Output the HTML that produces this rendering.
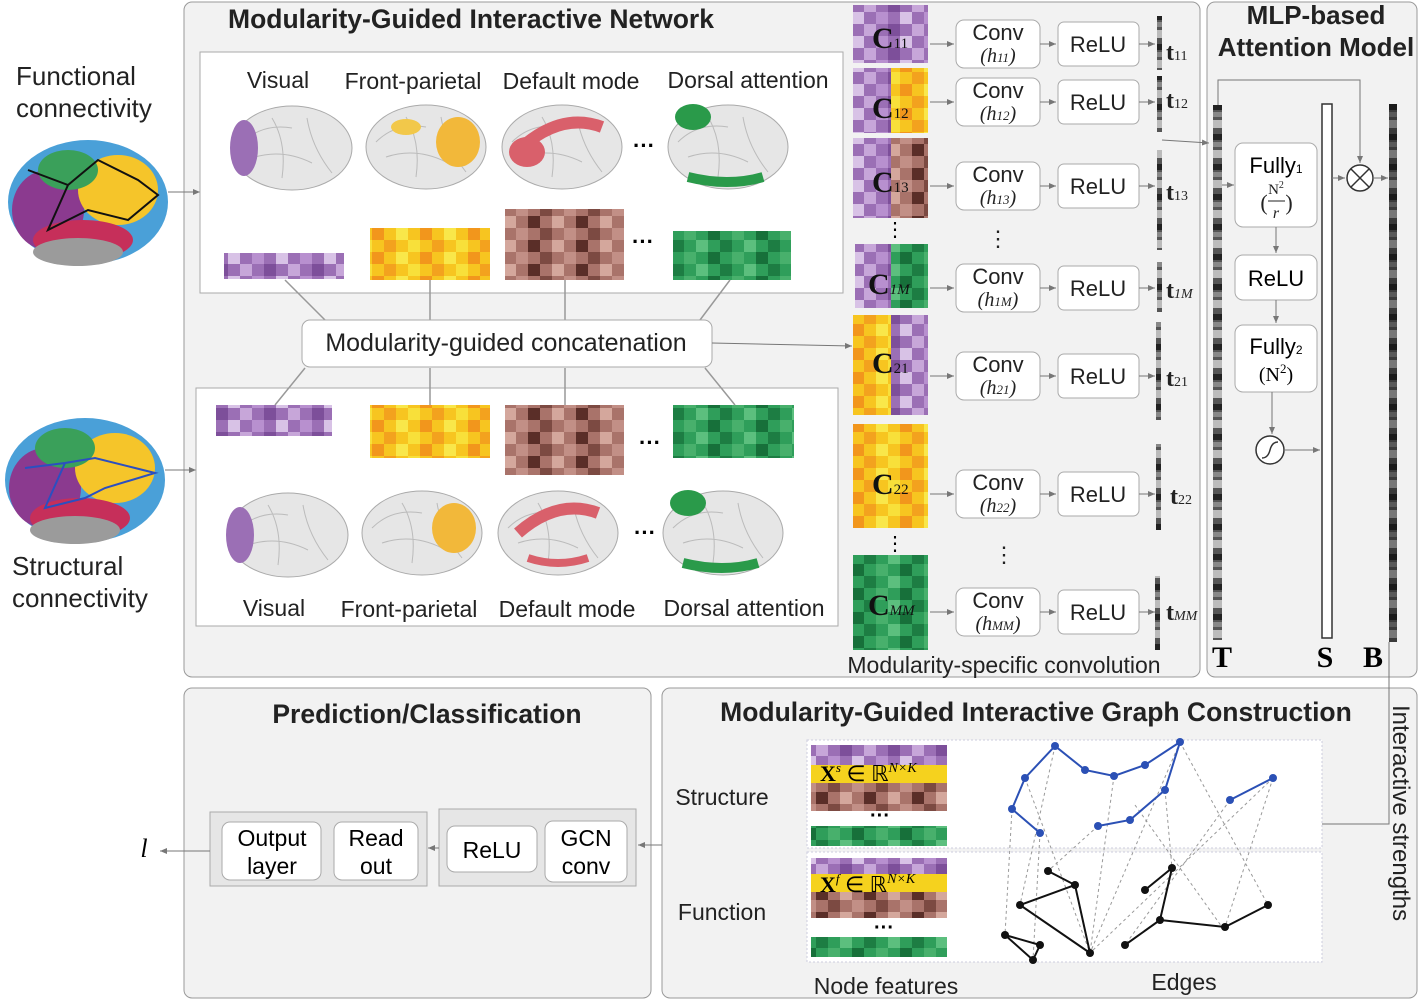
<!DOCTYPE html>
<html><head><meta charset="utf-8"><style>
body{margin:0;background:#fff;}
svg{display:block;font-family:"Liberation Sans",Arial,sans-serif;}
</style></head><body>
<svg width="1419" height="1001" viewBox="0 0 1419 1001" xmlns="http://www.w3.org/2000/svg">
<defs>
<pattern id="pp" width="48" height="24" patternUnits="userSpaceOnUse">
<rect width="48" height="24" fill="#9b6fb5"/><rect x="0" y="0" width="12" height="12" fill="#c7a6d9"/><rect x="24" y="0" width="12" height="12" fill="#7d4f9a"/><rect x="12" y="12" width="12" height="12" fill="#b890cf"/><rect x="36" y="12" width="12" height="12" fill="#d8c2e6"/></pattern>
<pattern id="py" width="48" height="24" patternUnits="userSpaceOnUse">
<rect width="48" height="24" fill="#f7c520"/><rect x="0" y="0" width="12" height="12" fill="#f3a21e"/><rect x="24" y="0" width="12" height="12" fill="#f8e03a"/><rect x="12" y="12" width="12" height="12" fill="#f9e74a"/><rect x="36" y="12" width="12" height="12" fill="#f2961c"/></pattern>
<pattern id="pb" width="48" height="24" patternUnits="userSpaceOnUse">
<rect width="48" height="24" fill="#a9736a"/><rect x="0" y="0" width="12" height="12" fill="#5a2e28"/><rect x="24" y="0" width="12" height="12" fill="#d4a79c"/><rect x="12" y="12" width="12" height="12" fill="#7c4a42"/><rect x="36" y="12" width="12" height="12" fill="#c28f86"/></pattern>
<pattern id="pg" width="48" height="24" patternUnits="userSpaceOnUse">
<rect width="48" height="24" fill="#2f9e5a"/><rect x="0" y="0" width="12" height="12" fill="#1d7d43"/><rect x="24" y="0" width="12" height="12" fill="#5cbf7e"/><rect x="12" y="12" width="12" height="12" fill="#48b06c"/><rect x="36" y="12" width="12" height="12" fill="#17703a"/></pattern>
<pattern id="pbar" width="10" height="30" patternUnits="userSpaceOnUse">
<rect width="10" height="30" fill="#555"/><rect y="0" width="10" height="8" fill="#bbb"/><rect y="14" width="10" height="6" fill="#222"/><rect y="22" width="10" height="5" fill="#888"/></pattern>
<marker id="ar" markerWidth="8" markerHeight="8" refX="7" refY="4" orient="auto"><path d="M0,1 L7,4 L0,7z" fill="#777"/></marker>
<g id="brain"><ellipse cx="60" cy="45" rx="60" ry="42" fill="#e6e6e6" stroke="#aaa"/><path d="M10,40 Q30,20 60,25 M20,55 Q50,45 80,60 M40,15 Q55,40 50,75 M75,15 Q80,45 100,70" stroke="#bbb" fill="none"/></g>
</defs>

<rect x="184" y="2" width="1016" height="675" rx="8" fill="#f2f2f2" stroke="#999"/>
<rect x="1207" y="2" width="210" height="675" rx="8" fill="#f2f2f2" stroke="#999"/>
<rect x="184" y="688" width="467" height="310" rx="8" fill="#f2f2f2" stroke="#999"/>
<rect x="662" y="688" width="755" height="310" rx="8" fill="#f2f2f2" stroke="#999"/>

<text x="471" y="28" font-size="26.5" font-weight="bold" text-anchor="middle" fill="#222">Modularity-Guided Interactive Network</text>
<text x="1316" y="24" font-size="26" font-weight="bold" text-anchor="middle" fill="#222">MLP-based</text>
<text x="1316" y="56" font-size="26" font-weight="bold" text-anchor="middle" fill="#222">Attention Model</text>
<text x="427" y="723" font-size="26.5" font-weight="bold" text-anchor="middle" fill="#222">Prediction/Classification</text>
<text x="1036" y="721" font-size="26.5" font-weight="bold" text-anchor="middle" fill="#222">Modularity-Guided Interactive Graph Construction</text>

<text x="16" y="85" font-size="26" fill="#222">Functional</text>
<text x="16" y="117" font-size="26" fill="#222">connectivity</text>
<g transform="translate(8,140)"><ellipse cx="80" cy="62" rx="80" ry="62" fill="#4aa0d8"/><ellipse cx="40" cy="70" rx="36" ry="40" fill="#8b3a8f"/><ellipse cx="110" cy="50" rx="40" ry="35" fill="#f5c52a"/><ellipse cx="75" cy="100" rx="50" ry="20" fill="#c62f5a"/><ellipse cx="60" cy="30" rx="30" ry="20" fill="#3aa05a"/><ellipse cx="70" cy="112" rx="45" ry="14" fill="#9b9b9b"/><path d="M20,30 L60,45 L90,20 L130,40 L150,55 L120,80 L80,70 L40,90 L60,45" stroke="#111" stroke-width="2" fill="none"/></g>
<line x1="168" y1="192" x2="200" y2="192" stroke="#777" marker-end="url(#ar)"/>
<g transform="translate(5,418)"><ellipse cx="80" cy="62" rx="80" ry="62" fill="#4aa0d8"/><ellipse cx="40" cy="70" rx="36" ry="40" fill="#8b3a8f"/><ellipse cx="110" cy="50" rx="40" ry="35" fill="#f5c52a"/><ellipse cx="75" cy="100" rx="50" ry="20" fill="#c62f5a"/><ellipse cx="60" cy="30" rx="30" ry="20" fill="#3aa05a"/><ellipse cx="70" cy="112" rx="45" ry="14" fill="#9b9b9b"/><path d="M20,50 L60,45 L90,40 L130,50 L150,55 L100,70 L80,80 L40,90 L60,45" stroke="#2b4fc0" stroke-width="2" fill="none"/></g>
<line x1="165" y1="470" x2="196" y2="470" stroke="#777" marker-end="url(#ar)"/>
<text x="12" y="575" font-size="26" fill="#222">Structural</text>
<text x="12" y="607" font-size="26" fill="#222">connectivity</text>

<rect x="200" y="52" width="643" height="241" fill="#fff" stroke="#aaa"/>
<rect x="196" y="388" width="642" height="238" fill="#fff" stroke="#aaa"/>
<g font-size="23" fill="#222" text-anchor="middle">
<text x="278" y="88">Visual</text><text x="413" y="89">Front-parietal</text><text x="571" y="89">Default mode</text><text x="748" y="88">Dorsal attention</text>
<text x="274" y="616">Visual</text><text x="409" y="617">Front-parietal</text><text x="567" y="617">Default mode</text><text x="744" y="616">Dorsal attention</text>
</g>
<g transform="translate(232,103)"><use href="#brain"/><ellipse cx="12" cy="45" rx="14" ry="28" fill="#9b6fb5"/></g>
<g transform="translate(366,102)"><use href="#brain"/><ellipse cx="92" cy="40" rx="22" ry="25" fill="#f2b83a"/><ellipse cx="40" cy="25" rx="15" ry="8" fill="#f2c84a"/></g>
<g transform="translate(502,102)"><use href="#brain"/><path d="M20,45 Q60,10 100,25" stroke="#d9606b" stroke-width="12" fill="none"/><ellipse cx="25" cy="50" rx="18" ry="15" fill="#d9606b"/></g>
<text x="644" y="153" font-size="22" font-weight="bold" text-anchor="middle">···</text>
<g transform="translate(668,102)"><use href="#brain"/><ellipse cx="25" cy="15" rx="18" ry="13" fill="#2a9a4a"/><path d="M20,75 Q60,85 95,75" stroke="#2a9a4a" stroke-width="10" fill="none"/></g>
<rect x="224" y="253" width="120" height="26" fill="url(#pp)"/>
<rect x="370" y="228" width="120" height="52" fill="url(#py)"/>
<rect x="505" y="209" width="119" height="71" fill="url(#pb)"/>
<text x="643" y="249" font-size="22" font-weight="bold" text-anchor="middle">···</text>
<rect x="673" y="231" width="118" height="49" fill="url(#pg)"/>
<rect x="216" y="405" width="116" height="31" fill="url(#pp)"/>
<rect x="370" y="405" width="120" height="53" fill="url(#py)"/>
<rect x="505" y="405" width="119" height="70" fill="url(#pb)"/>
<text x="650" y="450" font-size="22" font-weight="bold" text-anchor="middle">···</text>
<rect x="673" y="405" width="121" height="53" fill="url(#pg)"/>
<g transform="translate(228,490)"><use href="#brain"/><ellipse cx="12" cy="45" rx="14" ry="28" fill="#9b6fb5"/></g>
<g transform="translate(362,488)"><use href="#brain"/><ellipse cx="92" cy="40" rx="22" ry="25" fill="#f2b83a"/></g>
<g transform="translate(498,488)"><use href="#brain"/><path d="M20,45 Q60,10 100,25" stroke="#d9606b" stroke-width="12" fill="none"/><path d="M30,70 Q60,80 90,70" stroke="#d9606b" stroke-width="8" fill="none"/></g>
<text x="645" y="540" font-size="22" font-weight="bold" text-anchor="middle">···</text>
<g transform="translate(663,488)"><use href="#brain"/><ellipse cx="25" cy="15" rx="18" ry="13" fill="#2a9a4a"/><path d="M20,75 Q60,85 95,75" stroke="#2a9a4a" stroke-width="10" fill="none"/></g>

<g stroke="#999" stroke-width="1.5">
<line x1="285" y1="280" x2="325" y2="320"/><line x1="430" y1="280" x2="430" y2="320"/><line x1="565" y1="280" x2="565" y2="320"/><line x1="730" y1="280" x2="700" y2="320"/>
<line x1="305" y1="368" x2="275" y2="405"/><line x1="430" y1="368" x2="430" y2="405"/><line x1="565" y1="368" x2="565" y2="405"/><line x1="705" y1="368" x2="735" y2="405"/>
</g>
<rect x="302" y="320" width="410" height="47" rx="8" fill="#fff" stroke="#aaa"/>
<text x="506" y="351" font-size="25" text-anchor="middle" fill="#222">Modularity-guided concatenation</text>
<line x1="712" y1="343" x2="852" y2="346" stroke="#777" marker-end="url(#ar)"/>

<g>
<rect x="853" y="5" width="22" height="58" fill="url(#pp)"/><rect x="875" y="5" width="53" height="58" fill="url(#pp)"/>
<rect x="853" y="68" width="38" height="65" fill="url(#pp)"/><rect x="891" y="68" width="37" height="65" fill="url(#py)"/>
<rect x="853" y="138" width="38" height="80" fill="url(#pp)"/><rect x="891" y="138" width="37" height="80" fill="url(#pb)"/>
<rect x="855" y="244" width="36" height="64" fill="url(#pp)"/><rect x="891" y="244" width="37" height="64" fill="url(#pg)"/>
<rect x="853" y="315" width="38" height="100" fill="url(#py)"/><rect x="891" y="315" width="37" height="100" fill="url(#pp)"/>
<rect x="853" y="424" width="75" height="104" fill="url(#py)"/>
<rect x="853" y="555" width="75" height="95" fill="url(#pg)"/>
</g>
<g font-family="Liberation Serif,serif" font-weight="bold" fill="#111">
<text x="872" y="48" font-size="30">C<tspan font-size="15" font-weight="normal">11</tspan></text>
<text x="872" y="118" font-size="30">C<tspan font-size="15" font-weight="normal">12</tspan></text>
<text x="872" y="192" font-size="30">C<tspan font-size="15" font-weight="normal">13</tspan></text>
<text x="868" y="294" font-size="30">C<tspan font-size="15" font-style="italic" font-weight="normal">1M</tspan></text>
<text x="872" y="373" font-size="30">C<tspan font-size="15" font-weight="normal">21</tspan></text>
<text x="872" y="494" font-size="30">C<tspan font-size="15" font-weight="normal">22</tspan></text>
<text x="868" y="615" font-size="30">C<tspan font-size="15" font-style="italic" font-weight="normal">MM</tspan></text>
</g>
<text x="895" y="236" font-size="20" text-anchor="middle">⋮</text>
<text x="895" y="550" font-size="20" text-anchor="middle">⋮</text>

<g font-size="22" fill="#222" text-anchor="middle">
<g transform="translate(0,44)"><line x1="930" y1="0" x2="954" y2="0" stroke="#777" marker-end="url(#ar)"/><rect x="956" y="-24" width="84" height="48" rx="8" fill="#fff" stroke="#aaa"/><text x="998" y="-4">Conv</text><text x="998" y="18" font-family="Liberation Serif,serif" font-style="italic" font-size="20">(h<tspan font-size="13">11</tspan>)</text><line x1="1040" y1="0" x2="1056" y2="0" stroke="#777" marker-end="url(#ar)"/><rect x="1058" y="-22" width="81" height="44" rx="6" fill="#fff" stroke="#aaa"/><text x="1098" y="8">ReLU</text><line x1="1139" y1="0" x2="1155" y2="0" stroke="#777" marker-end="url(#ar)"/><text x="1166" y="16" font-family="Liberation Serif,serif" font-weight="bold" font-size="24" text-anchor="start">t<tspan font-size="14" font-weight="normal">11</tspan></text></g>
<g transform="translate(0,102)"><line x1="930" y1="0" x2="954" y2="0" stroke="#777" marker-end="url(#ar)"/><rect x="956" y="-24" width="84" height="48" rx="8" fill="#fff" stroke="#aaa"/><text x="998" y="-4">Conv</text><text x="998" y="18" font-family="Liberation Serif,serif" font-style="italic" font-size="20">(h<tspan font-size="13">12</tspan>)</text><line x1="1040" y1="0" x2="1056" y2="0" stroke="#777" marker-end="url(#ar)"/><rect x="1058" y="-22" width="81" height="44" rx="6" fill="#fff" stroke="#aaa"/><text x="1098" y="8">ReLU</text><line x1="1139" y1="0" x2="1155" y2="0" stroke="#777" marker-end="url(#ar)"/><text x="1166" y="6" font-family="Liberation Serif,serif" font-weight="bold" font-size="24" text-anchor="start">t<tspan font-size="14" font-weight="normal">12</tspan></text></g>
<g transform="translate(0,186)"><line x1="930" y1="0" x2="954" y2="0" stroke="#777" marker-end="url(#ar)"/><rect x="956" y="-24" width="84" height="48" rx="8" fill="#fff" stroke="#aaa"/><text x="998" y="-4">Conv</text><text x="998" y="18" font-family="Liberation Serif,serif" font-style="italic" font-size="20">(h<tspan font-size="13">13</tspan>)</text><line x1="1040" y1="0" x2="1056" y2="0" stroke="#777" marker-end="url(#ar)"/><rect x="1058" y="-22" width="81" height="44" rx="6" fill="#fff" stroke="#aaa"/><text x="1098" y="8">ReLU</text><line x1="1139" y1="0" x2="1155" y2="0" stroke="#777" marker-end="url(#ar)"/><text x="1166" y="14" font-family="Liberation Serif,serif" font-weight="bold" font-size="24" text-anchor="start">t<tspan font-size="14" font-weight="normal">13</tspan></text></g>
<g transform="translate(0,288)"><line x1="930" y1="0" x2="954" y2="0" stroke="#777" marker-end="url(#ar)"/><rect x="956" y="-24" width="84" height="48" rx="8" fill="#fff" stroke="#aaa"/><text x="998" y="-4">Conv</text><text x="998" y="18" font-family="Liberation Serif,serif" font-style="italic" font-size="20">(h<tspan font-size="13">1M</tspan>)</text><line x1="1040" y1="0" x2="1056" y2="0" stroke="#777" marker-end="url(#ar)"/><rect x="1058" y="-22" width="81" height="44" rx="6" fill="#fff" stroke="#aaa"/><text x="1098" y="8">ReLU</text><line x1="1139" y1="0" x2="1155" y2="0" stroke="#777" marker-end="url(#ar)"/><text x="1166" y="10" font-family="Liberation Serif,serif" font-weight="bold" font-size="24" text-anchor="start">t<tspan font-size="14" font-style="italic" font-weight="normal">1M</tspan></text></g>
<g transform="translate(0,376)"><line x1="930" y1="0" x2="954" y2="0" stroke="#777" marker-end="url(#ar)"/><rect x="956" y="-24" width="84" height="48" rx="8" fill="#fff" stroke="#aaa"/><text x="998" y="-4">Conv</text><text x="998" y="18" font-family="Liberation Serif,serif" font-style="italic" font-size="20">(h<tspan font-size="13">21</tspan>)</text><line x1="1040" y1="0" x2="1056" y2="0" stroke="#777" marker-end="url(#ar)"/><rect x="1058" y="-22" width="81" height="44" rx="6" fill="#fff" stroke="#aaa"/><text x="1098" y="8">ReLU</text><line x1="1139" y1="0" x2="1155" y2="0" stroke="#777" marker-end="url(#ar)"/><text x="1166" y="10" font-family="Liberation Serif,serif" font-weight="bold" font-size="24" text-anchor="start">t<tspan font-size="14" font-weight="normal">21</tspan></text></g>
<g transform="translate(0,494)"><line x1="930" y1="0" x2="954" y2="0" stroke="#777" marker-end="url(#ar)"/><rect x="956" y="-24" width="84" height="48" rx="8" fill="#fff" stroke="#aaa"/><text x="998" y="-4">Conv</text><text x="998" y="18" font-family="Liberation Serif,serif" font-style="italic" font-size="20">(h<tspan font-size="13">22</tspan>)</text><line x1="1040" y1="0" x2="1056" y2="0" stroke="#777" marker-end="url(#ar)"/><rect x="1058" y="-22" width="81" height="44" rx="6" fill="#fff" stroke="#aaa"/><text x="1098" y="8">ReLU</text><line x1="1139" y1="0" x2="1155" y2="0" stroke="#777" marker-end="url(#ar)"/><text x="1170" y="10" font-family="Liberation Serif,serif" font-weight="bold" font-size="24" text-anchor="start">t<tspan font-size="14" font-weight="normal">22</tspan></text></g>
<g transform="translate(0,612)"><line x1="930" y1="0" x2="954" y2="0" stroke="#777" marker-end="url(#ar)"/><rect x="956" y="-24" width="84" height="48" rx="8" fill="#fff" stroke="#aaa"/><text x="998" y="-4">Conv</text><text x="998" y="18" font-family="Liberation Serif,serif" font-style="italic" font-size="20">(h<tspan font-size="13">MM</tspan>)</text><line x1="1040" y1="0" x2="1056" y2="0" stroke="#777" marker-end="url(#ar)"/><rect x="1058" y="-22" width="81" height="44" rx="6" fill="#fff" stroke="#aaa"/><text x="1098" y="8">ReLU</text><line x1="1139" y1="0" x2="1155" y2="0" stroke="#777" marker-end="url(#ar)"/><text x="1166" y="8" font-family="Liberation Serif,serif" font-weight="bold" font-size="24" text-anchor="start">t<tspan font-size="14" font-style="italic" font-weight="normal">MM</tspan></text></g>
<text x="998" y="246">⋮</text><text x="1004" y="562">⋮</text>
</g>
<g fill="url(#pbar)">
<rect x="1157" y="16" width="5" height="54"/><rect x="1157" y="76" width="5" height="56"/><rect x="1157" y="150" width="5" height="100"/><rect x="1157" y="262" width="5" height="50"/><rect x="1156" y="322" width="5" height="98"/><rect x="1156" y="444" width="5" height="86"/><rect x="1155" y="576" width="5" height="74"/>
</g>
<text x="1004" y="673" font-size="23" text-anchor="middle" fill="#222">Modularity-specific convolution</text>
<line x1="1162" y1="140" x2="1209" y2="143" stroke="#777" marker-end="url(#ar)"/>

<rect x="1213" y="105" width="9" height="535" fill="url(#pbar)"/>
<rect x="1322" y="104" width="10" height="534" fill="#fff" stroke="#333" stroke-width="1.5"/>
<rect x="1389" y="104" width="8" height="538" fill="#111"/>
<rect x="1389" y="104" width="8" height="538" fill="url(#pbar)" opacity="0.6"/>
<text x="1222" y="667" font-family="Liberation Serif,serif" font-weight="bold" font-size="30" text-anchor="middle">T</text>
<text x="1325" y="667" font-family="Liberation Serif,serif" font-weight="bold" font-size="30" text-anchor="middle">S</text>
<text x="1373" y="667" font-family="Liberation Serif,serif" font-weight="bold" font-size="30" text-anchor="middle">B</text>
<path d="M1218,105 V80 H1360 V163" stroke="#777" fill="none" marker-end="url(#ar)"/>
<line x1="1222" y1="185" x2="1234" y2="185" stroke="#777" marker-end="url(#ar)"/>
<rect x="1235" y="143" width="82" height="84" rx="8" fill="#fff" stroke="#aaa"/>
<text x="1276" y="173" font-size="22" text-anchor="middle">Fully<tspan font-size="12">1</tspan></text>
<g font-family="Liberation Serif,serif" text-anchor="middle" fill="#222">
<text x="1264" y="210" font-size="22">(</text>
<text x="1276" y="194" font-size="15">N<tspan font-size="10" dy="-6">2</tspan></text>
<text x="1276" y="218" font-size="16" font-style="italic">r</text>
<text x="1289" y="210" font-size="22">)</text>
</g>
<line x1="1268" y1="201" x2="1285" y2="201" stroke="#222"/>
<line x1="1276" y1="227" x2="1276" y2="253" stroke="#777" marker-end="url(#ar)"/>
<rect x="1235" y="255" width="82" height="45" rx="8" fill="#fff" stroke="#aaa"/>
<text x="1276" y="286" font-size="22" text-anchor="middle">ReLU</text>
<line x1="1276" y1="300" x2="1276" y2="323" stroke="#777" marker-end="url(#ar)"/>
<rect x="1235" y="325" width="82" height="67" rx="8" fill="#fff" stroke="#aaa"/>
<text x="1276" y="354" font-size="22" text-anchor="middle">Fully<tspan font-size="12">2</tspan></text>
<text x="1276" y="381" font-size="20" text-anchor="middle" font-family="Liberation Serif,serif">(N<tspan font-size="13" dy="-8">2</tspan><tspan dy="8">)</tspan></text>
<path d="M1272,392 V434" stroke="#777" fill="none" marker-end="url(#ar)"/>
<circle cx="1270" cy="450" r="14" fill="#fff" stroke="#333" stroke-width="1.5"/>
<path d="M1262,458 Q1268,458 1270,450 Q1272,442 1278,442" stroke="#333" fill="none" stroke-width="1.5"/>
<line x1="1284" y1="450" x2="1320" y2="450" stroke="#777" marker-end="url(#ar)"/>
<line x1="1332" y1="178" x2="1345" y2="178" stroke="#777" marker-end="url(#ar)"/>
<circle cx="1360" cy="178" r="13" fill="#fff" stroke="#333" stroke-width="1.5"/>
<path d="M1351,169 L1369,187 M1369,169 L1351,187" stroke="#333" stroke-width="1.5"/>
<line x1="1373" y1="178" x2="1388" y2="178" stroke="#777" marker-end="url(#ar)"/>
<path d="M1389,642 V824 H1262" stroke="#777" fill="none" marker-end="url(#ar)"/>
<text transform="translate(1393,705) rotate(90)" font-size="24" fill="#222">Interactive strengths</text>

<text x="722" y="805" font-size="23" text-anchor="middle" fill="#222">Structure</text>
<text x="722" y="920" font-size="23" text-anchor="middle" fill="#222">Function</text>
<text x="886" y="994" font-size="23" text-anchor="middle" fill="#222">Node features</text>
<text x="1184" y="990" font-size="23" text-anchor="middle" fill="#222">Edges</text>
<rect x="807" y="740" width="515" height="108" fill="#fff" stroke="#ccd" stroke-dasharray="2,2"/>
<rect x="807" y="852" width="515" height="110" fill="#fff" stroke="#ccd" stroke-dasharray="2,2"/>
<g>
<rect x="811" y="745" width="136" height="20" fill="url(#pp)"/><rect x="811" y="765" width="136" height="18" fill="#f5d21e"/><rect x="811" y="783" width="136" height="28" fill="url(#pb)"/><rect x="811" y="826" width="136" height="20" fill="url(#pg)"/>
<rect x="811" y="858" width="136" height="16" fill="url(#pp)"/><rect x="811" y="874" width="136" height="18" fill="#f5d21e"/><rect x="811" y="892" width="136" height="26" fill="url(#pb)"/><rect x="811" y="937" width="136" height="20" fill="url(#pg)"/>
</g>
<text x="820" y="781" font-family="Liberation Serif,serif" font-size="22" font-weight="bold">X<tspan font-size="13" font-style="italic" font-weight="normal" dy="-9">s</tspan><tspan dy="9" font-weight="normal"> ∈ ℝ</tspan><tspan font-size="14" font-style="italic" font-weight="normal" dy="-9">N×K</tspan></text>
<text x="820" y="892" font-family="Liberation Serif,serif" font-size="22" font-weight="bold">X<tspan font-size="13" font-style="italic" font-weight="normal" dy="-9">f</tspan><tspan dy="9" font-weight="normal"> ∈ ℝ</tspan><tspan font-size="14" font-style="italic" font-weight="normal" dy="-9">N×K</tspan></text>
<text x="880" y="822" font-size="20" font-weight="bold" text-anchor="middle">···</text>
<text x="884" y="934" font-size="20" font-weight="bold" text-anchor="middle">···</text>
<g stroke="#999" stroke-dasharray="3,3" stroke-width="1">
<line x1="1055" y1="746" x2="1020" y2="905"/><line x1="1114" y1="776" x2="1090" y2="953"/><line x1="1180" y1="742" x2="1090" y2="953"/><line x1="1230" y1="800" x2="1125" y2="945"/><line x1="1273" y1="778" x2="1225" y2="927"/><line x1="1025" y1="778" x2="1090" y2="953"/><line x1="1040" y1="833" x2="1033" y2="960"/><line x1="1165" y1="790" x2="1172" y2="868"/><line x1="1098" y1="826" x2="1048" y2="871"/><line x1="1012" y1="809" x2="1005" y2="935"/><line x1="1135" y1="805" x2="1222" y2="927"/><line x1="1273" y1="778" x2="1090" y2="953"/><line x1="1180" y1="742" x2="1268" y2="905"/>
</g>
<g stroke="#2b50b5" stroke-width="2" fill="none"><path d="M1012,809 L1025,778 L1055,746 L1085,770 L1114,776 L1145,765 L1180,742 L1165,790 L1130,820 L1098,826 M1012,809 L1040,833 M1230,800 L1273,778"/></g>
<g fill="#2b50b5"><circle cx="1012" cy="809" r="4"/><circle cx="1025" cy="778" r="4"/><circle cx="1055" cy="746" r="4"/><circle cx="1085" cy="770" r="4"/><circle cx="1114" cy="776" r="4"/><circle cx="1145" cy="765" r="4"/><circle cx="1180" cy="742" r="4"/><circle cx="1165" cy="790" r="4"/><circle cx="1130" cy="820" r="4"/><circle cx="1098" cy="826" r="4"/><circle cx="1040" cy="833" r="4"/><circle cx="1230" cy="800" r="4"/><circle cx="1273" cy="778" r="4"/></g>
<g stroke="#111" stroke-width="2" fill="none"><path d="M1048,871 L1075,885 L1090,953 M1075,885 L1020,905 L1090,953 M1005,935 L1040,945 L1033,960 L1005,935 M1125,945 L1160,920 L1172,868 L1145,890 M1268,905 L1225,927 L1160,920"/></g>
<g fill="#111"><circle cx="1048" cy="871" r="4"/><circle cx="1075" cy="885" r="4"/><circle cx="1090" cy="953" r="4"/><circle cx="1020" cy="905" r="4"/><circle cx="1005" cy="935" r="4"/><circle cx="1040" cy="945" r="4"/><circle cx="1033" cy="960" r="4"/><circle cx="1125" cy="945" r="4"/><circle cx="1160" cy="920" r="4"/><circle cx="1172" cy="868" r="4"/><circle cx="1145" cy="890" r="4"/><circle cx="1268" cy="905" r="4"/><circle cx="1225" cy="927" r="4"/></g>

<line x1="662" y1="845" x2="638" y2="845" stroke="#777" marker-end="url(#ar)"/>
<rect x="439" y="809" width="197" height="77" fill="#e6e6e6" stroke="#aaa"/>
<rect x="447" y="826" width="90" height="46" rx="8" fill="#fff" stroke="#aaa"/>
<text x="492" y="858" font-size="23" text-anchor="middle">ReLU</text>
<rect x="545" y="821" width="82" height="61" rx="8" fill="#fff" stroke="#aaa"/>
<text x="586" y="846" font-size="23" text-anchor="middle">GCN</text><text x="586" y="874" font-size="23" text-anchor="middle">conv</text>
<line x1="439" y1="848" x2="428" y2="848" stroke="#777" marker-end="url(#ar)"/>
<rect x="210" y="812" width="217" height="74" fill="#e6e6e6" stroke="#aaa"/>
<rect x="222" y="822" width="99" height="58" rx="8" fill="#fff" stroke="#aaa"/>
<text x="272" y="846" font-size="23" text-anchor="middle">Output</text><text x="272" y="874" font-size="23" text-anchor="middle">layer</text>
<rect x="334" y="822" width="84" height="58" rx="8" fill="#fff" stroke="#aaa"/>
<text x="376" y="846" font-size="23" text-anchor="middle">Read</text><text x="376" y="874" font-size="23" text-anchor="middle">out</text>
<line x1="210" y1="851" x2="160" y2="851" stroke="#777" marker-end="url(#ar)"/>
<text x="144" y="857" font-family="Liberation Serif,serif" font-style="italic" font-size="26" text-anchor="middle">l</text>
</svg>
</body></html>
